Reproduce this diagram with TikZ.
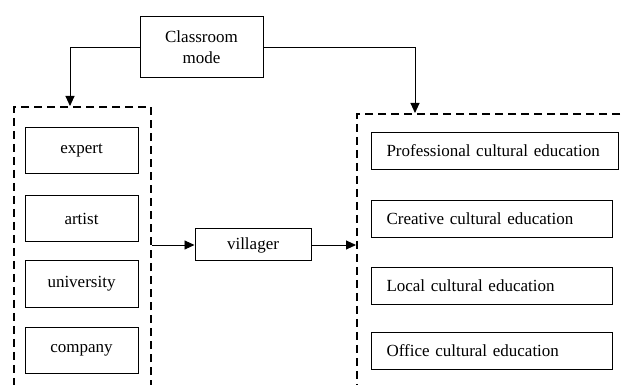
\documentclass[tikz,border=0pt]{standalone}
\usepackage{fontspec}
\setmainfont{Liberation Serif}
\usetikzlibrary{arrows.meta}
\begin{document}
\begin{tikzpicture}[x=1pt,y=-1pt,
  box/.style={draw,line width=1pt,inner sep=0pt,font=\fontsize{17}{21}\selectfont},
  grp/.style={draw,line width=2pt,dash pattern=on 8pt off 5pt,inner sep=0pt},
  conn/.style={line width=0.9pt,-{Triangle[length=10pt,width=9pt]}},
  lbox/.style={box,minimum width=113pt,minimum height=46pt},
  rbox/.style={box,minimum height=37pt,align=left,inner xsep=15pt}]
\useasboundingbox (0,0) rectangle (622,385);
\clip (0,0) rectangle (622,385);
\fill[white] (0,0) rectangle (622,385);
% groups
\node[grp,minimum width=137pt,minimum height=300pt,anchor=north west] (lgrp) at (13,106) {};
\node[grp,minimum width=300pt,minimum height=300pt,anchor=north west] (rgrp) at (356,113) {};
% top
\node[box,minimum width=123pt,minimum height=61pt,align=center] (cls) at (201.5,47.5) {Classroom\\mode};
% left boxes
\node[lbox] (expert) at (81.5,151) {expert};
\node[lbox] (artist) at (81.5,219) {artist};
\node[lbox] (univ) at (81.5,284) {university};
\node[lbox] (comp) at (81.5,350) {company};
% villager
\node[box,minimum width=116pt,minimum height=32pt] (vil) at (253,245) {villager};
% right boxes
\node[rbox,text width=217pt,anchor=north west] (prof) at (371,132) {Professional cultural education};
\node[rbox,text width=211pt,anchor=north west] (crea) at (371,200) {Creative cultural education};
\node[rbox,text width=211pt,anchor=north west] (loc) at (371,267) {Local cultural education};
\node[rbox,text width=211pt,anchor=north west] (off) at (371,332) {Office cultural education};
% connectors
\coordinate (lt) at (70,106);
\coordinate (rt) at (415,113);
\draw[conn] (cls.west) -| (lt);
\draw[conn] (cls.east) -| (rt);
\draw[conn] (lgrp.east |- vil.west) -- (vil.west);
\draw[conn] (vil.east) -- (rgrp.west |- vil.east);
\end{tikzpicture}
\end{document}
